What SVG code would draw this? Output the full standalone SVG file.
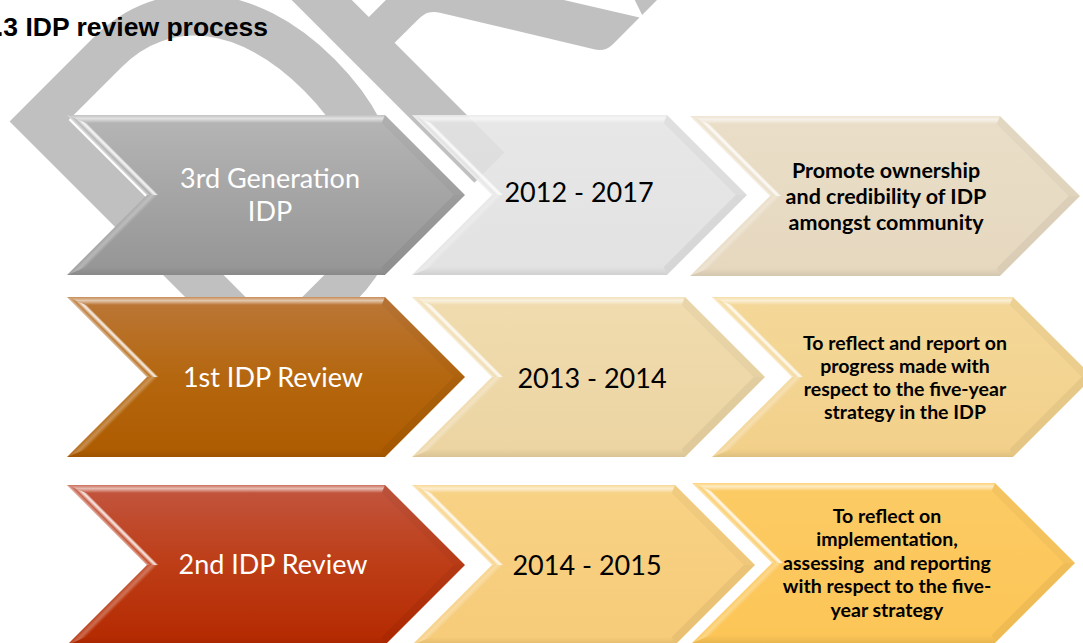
<svg xmlns="http://www.w3.org/2000/svg" width="1083" height="643" viewBox="0 0 1083 643">
  <defs>
    <style>
      .wm { font-family: Lato, "Open Sans", sans-serif; font-size: 519px; fill: #c0c0c0; }
      .title { font-family: "Liberation Sans", Arial, sans-serif; font-weight: bold; font-size: 26.5px; fill: #000; }
      .lbl { font-family: Lato, "Open Sans", sans-serif; font-size: 27px; text-anchor: middle; }
      .w { fill: #ffffff; }
      .k { fill: #000000; }
      .note { font-family: Lato, "Open Sans", sans-serif; font-weight: bold; text-anchor: middle; fill: #000; }
      .n1 { font-size: 21.5px; }
      .n2 { font-size: 19.5px; }
      .bt { fill: url(#bevTop); }
      .bul { fill: url(#bevUL); }
      .bll { fill: url(#bevLL); }
      .bb { fill: url(#bevBot); }
      .bur { fill: #000; fill-opacity: 0.03; }
      .blr { fill: #000; fill-opacity: 0.05; }
    </style>
    <!-- body fills -->
    <linearGradient id="gA" x1="0" y1="0" x2="0" y2="1">
      <stop offset="0" stop-color="#b6b6b6"/><stop offset="0.5" stop-color="#a5a5a5"/><stop offset="1" stop-color="#959595"/>
    </linearGradient>
    <linearGradient id="gB" x1="0" y1="0" x2="0" y2="1">
      <stop offset="0" stop-color="#e4e4e4"/><stop offset="1" stop-color="#dedede"/>
    </linearGradient>
    <linearGradient id="gC" x1="0" y1="0" x2="0" y2="1">
      <stop offset="0" stop-color="#eadec8"/><stop offset="1" stop-color="#e6d8bf"/>
    </linearGradient>
    <linearGradient id="gD" x1="0" y1="0" x2="0" y2="1">
      <stop offset="0" stop-color="#bb7738"/><stop offset="0.5" stop-color="#b5670f"/><stop offset="1" stop-color="#ad5b00"/>
    </linearGradient>
    <linearGradient id="gE" x1="0" y1="0" x2="0" y2="1">
      <stop offset="0" stop-color="#f0dcaf"/><stop offset="1" stop-color="#ecd4a2"/>
    </linearGradient>
    <linearGradient id="gF" x1="0" y1="0" x2="0" y2="1">
      <stop offset="0" stop-color="#f4d899"/><stop offset="1" stop-color="#f2d08a"/>
    </linearGradient>
    <linearGradient id="gG" x1="0" y1="0" x2="0" y2="1">
      <stop offset="0" stop-color="#c2563f"/><stop offset="0.5" stop-color="#bd3d16"/><stop offset="1" stop-color="#b42900"/>
    </linearGradient>
    <linearGradient id="gH" x1="0" y1="0" x2="0" y2="1">
      <stop offset="0" stop-color="#f8d285"/><stop offset="1" stop-color="#f6cb79"/>
    </linearGradient>
    <linearGradient id="gI" x1="0" y1="0" x2="0" y2="1">
      <stop offset="0" stop-color="#fccb65"/><stop offset="1" stop-color="#fcc556"/>
    </linearGradient>
    <!-- bevel strips, in each chevron's local frame -->
    <linearGradient id="bevTop" gradientUnits="userSpaceOnUse" x1="0" y1="0" x2="0" y2="8">
      <stop offset="0" stop-color="#fff" stop-opacity="0.15"/>
      <stop offset="0.45" stop-color="#fff" stop-opacity="0.6"/>
      <stop offset="1" stop-color="#fff" stop-opacity="0"/>
    </linearGradient>
    <linearGradient id="bevUL" gradientUnits="userSpaceOnUse" x1="40" y1="40" x2="45.66" y2="34.34">
      <stop offset="0" stop-color="#fff" stop-opacity="0.55"/>
      <stop offset="0.35" stop-color="#fff" stop-opacity="0.1"/>
      <stop offset="0.75" stop-color="#fff" stop-opacity="0.9"/>
      <stop offset="1" stop-color="#fff" stop-opacity="0.35"/>
    </linearGradient>
    <linearGradient id="bevLL" gradientUnits="userSpaceOnUse" x1="40" y1="120" x2="45.66" y2="125.66">
      <stop offset="0" stop-color="#fff" stop-opacity="0.1"/>
      <stop offset="0.5" stop-color="#fff" stop-opacity="0.3"/>
      <stop offset="1" stop-color="#fff" stop-opacity="0"/>
    </linearGradient>
    <linearGradient id="bevBot" gradientUnits="userSpaceOnUse" x1="0" y1="160" x2="0" y2="152">
      <stop offset="0" stop-color="#000" stop-opacity="0.08"/>
      <stop offset="1" stop-color="#000" stop-opacity="0"/>
    </linearGradient>
  </defs>

  <rect width="1083" height="643" fill="#ffffff"/>

  <!-- background watermark, set diagonally -->
  <text class="wm" transform="translate(244,413) rotate(-45) scale(0.85,1)">D<tspan dx="-59">RAFT</tspan></text>

  <text class="title" x="-4" y="36">.3 IDP review process</text>

  <!-- row 1 -->
  <g id="node-3rd-generation">
    <g transform="translate(67,115)">
      <polygon points="0,0 318,0 398,80 318,160 0,160 80,80" fill="url(#gA)"/>
      <polygon class="bt" points="0,0 318,0 314.7,8 19.3,8"/>
      <polygon class="bur" points="318,0 398,80 386.7,80 314.7,8"/>
      <polygon class="blr" points="398,80 318,160 314.7,152 386.7,80"/>
      <polygon class="bb" points="318,160 0,160 19.3,152 314.7,152"/>
      <polygon class="bll" points="0,160 80,80 91.3,80 19.3,152"/>
      <polygon class="bul" points="80,80 0,0 19.3,8 91.3,80"/>
    </g>
    <text class="lbl w" x="270" y="188">3rd Generation</text>
    <text class="lbl w" x="270" y="221">IDP</text>
  </g>

  <g id="node-2012-2017">
    <g transform="translate(412,115)">
      <polygon points="0,0 255,0 335,80 255,160 0,160 80,80" fill="url(#gB)" fill-opacity="0.88"/>
      <polygon class="bt" points="0,0 255,0 251.7,8 19.3,8"/>
      <polygon class="bur" points="255,0 335,80 323.7,80 251.7,8"/>
      <polygon class="blr" points="335,80 255,160 251.7,152 323.7,80"/>
      <polygon class="bb" points="255,160 0,160 19.3,152 251.7,152"/>
      <polygon class="bll" points="0,160 80,80 91.3,80 19.3,152"/>
      <polygon class="bul" points="80,80 0,0 19.3,8 91.3,80"/>
    </g>
    <text class="lbl k" x="579" y="202">2012 - 2017</text>
  </g>

  <g id="node-promote-ownership">
    <g transform="translate(690,116)">
      <polygon points="0,0 310,0 390,80 310,160 0,160 80,80" fill="url(#gC)"/>
      <polygon class="bt" points="0,0 310,0 306.7,8 19.3,8"/>
      <polygon class="bur" points="310,0 390,80 378.7,80 306.7,8"/>
      <polygon class="blr" points="390,80 310,160 306.7,152 378.7,80"/>
      <polygon class="bb" points="310,160 0,160 19.3,152 306.7,152"/>
      <polygon class="bll" points="0,160 80,80 91.3,80 19.3,152"/>
      <polygon class="bul" points="80,80 0,0 19.3,8 91.3,80"/>
    </g>
    <text class="note n1" x="886" y="178">Promote ownership</text>
    <text class="note n1" x="886" y="204">and credibility of IDP</text>
    <text class="note n1" x="886" y="230">amongst community</text>
  </g>

  <!-- row 2 -->
  <g id="node-1st-review">
    <g transform="translate(67,297)">
      <polygon points="0,0 318,0 398,80 318,160 0,160 80,80" fill="url(#gD)"/>
      <polygon class="bt" points="0,0 318,0 314.7,8 19.3,8"/>
      <polygon class="bur" points="318,0 398,80 386.7,80 314.7,8"/>
      <polygon class="blr" points="398,80 318,160 314.7,152 386.7,80"/>
      <polygon class="bb" points="318,160 0,160 19.3,152 314.7,152"/>
      <polygon class="bll" points="0,160 80,80 91.3,80 19.3,152"/>
      <polygon class="bul" points="80,80 0,0 19.3,8 91.3,80"/>
    </g>
    <text class="lbl w" x="273" y="387">1st IDP Review</text>
  </g>

  <g id="node-2013-2014">
    <g transform="translate(412,297)">
      <polygon points="0,0 273,0 353,80 273,160 0,160 80,80" fill="url(#gE)"/>
      <polygon class="bt" points="0,0 273,0 269.7,8 19.3,8"/>
      <polygon class="bur" points="273,0 353,80 341.7,80 269.7,8"/>
      <polygon class="blr" points="353,80 273,160 269.7,152 341.7,80"/>
      <polygon class="bb" points="273,160 0,160 19.3,152 269.7,152"/>
      <polygon class="bll" points="0,160 80,80 91.3,80 19.3,152"/>
      <polygon class="bul" points="80,80 0,0 19.3,8 91.3,80"/>
    </g>
    <text class="lbl k" x="592" y="388">2013 - 2014</text>
  </g>

  <g id="node-report-progress">
    <g transform="translate(712,297)">
      <polygon points="0,0 301,0 381,80 301,160 0,160 80,80" fill="url(#gF)"/>
      <polygon class="bt" points="0,0 301,0 297.7,8 19.3,8"/>
      <polygon class="bur" points="301,0 381,80 369.7,80 297.7,8"/>
      <polygon class="blr" points="381,80 301,160 297.7,152 369.7,80"/>
      <polygon class="bb" points="301,160 0,160 19.3,152 297.7,152"/>
      <polygon class="bll" points="0,160 80,80 91.3,80 19.3,152"/>
      <polygon class="bul" points="80,80 0,0 19.3,8 91.3,80"/>
    </g>
    <text class="note n2" x="905" y="350">To reflect and report on</text>
    <text class="note n2" x="905" y="373">progress made with</text>
    <text class="note n2" x="905" y="396">respect to the five-year</text>
    <text class="note n2" x="905" y="419">strategy in the IDP</text>
  </g>

  <!-- row 3 -->
  <g id="node-2nd-review">
    <g transform="translate(67,485)">
      <polygon points="0,0 318,0 398,80 318,160 0,160 80,80" fill="url(#gG)"/>
      <polygon class="bt" points="0,0 318,0 314.7,8 19.3,8"/>
      <polygon class="bur" points="318,0 398,80 386.7,80 314.7,8"/>
      <polygon class="blr" points="398,80 318,160 314.7,152 386.7,80"/>
      <polygon class="bb" points="318,160 0,160 19.3,152 314.7,152"/>
      <polygon class="bll" points="0,160 80,80 91.3,80 19.3,152"/>
      <polygon class="bul" points="80,80 0,0 19.3,8 91.3,80"/>
    </g>
    <text class="lbl w" x="273" y="574">2nd IDP Review</text>
  </g>

  <g id="node-2014-2015">
    <g transform="translate(412,485)">
      <polygon points="0,0 263,0 343,80 263,160 0,160 80,80" fill="url(#gH)"/>
      <polygon class="bt" points="0,0 263,0 259.7,8 19.3,8"/>
      <polygon class="bur" points="263,0 343,80 331.7,80 259.7,8"/>
      <polygon class="blr" points="343,80 263,160 259.7,152 331.7,80"/>
      <polygon class="bb" points="263,160 0,160 19.3,152 259.7,152"/>
      <polygon class="bll" points="0,160 80,80 91.3,80 19.3,152"/>
      <polygon class="bul" points="80,80 0,0 19.3,8 91.3,80"/>
    </g>
    <text class="lbl k" x="587" y="575">2014 - 2015</text>
  </g>

  <g id="node-implementation">
    <g transform="translate(692,483)">
      <polygon points="0,0 303,0 383,80 303,160 0,160 80,80" fill="url(#gI)"/>
      <polygon class="bt" points="0,0 303,0 299.7,8 19.3,8"/>
      <polygon class="bur" points="303,0 383,80 371.7,80 299.7,8"/>
      <polygon class="blr" points="383,80 303,160 299.7,152 371.7,80"/>
      <polygon class="bb" points="303,160 0,160 19.3,152 299.7,152"/>
      <polygon class="bll" points="0,160 80,80 91.3,80 19.3,152"/>
      <polygon class="bul" points="80,80 0,0 19.3,8 91.3,80"/>
    </g>
    <text class="note n2" x="887" y="523">To reflect on</text>
    <text class="note n2" x="887" y="546">implementation,</text>
    <text class="note n2" x="887" y="570" style="white-space:pre">assessing  and reporting</text>
    <text class="note n2" x="887" y="593">with respect to the five-</text>
    <text class="note n2" x="887" y="617">year strategy</text>
  </g>

  <!-- no connectors: the chevrons abut each other -->
  <g id="connectors"/>
</svg>
